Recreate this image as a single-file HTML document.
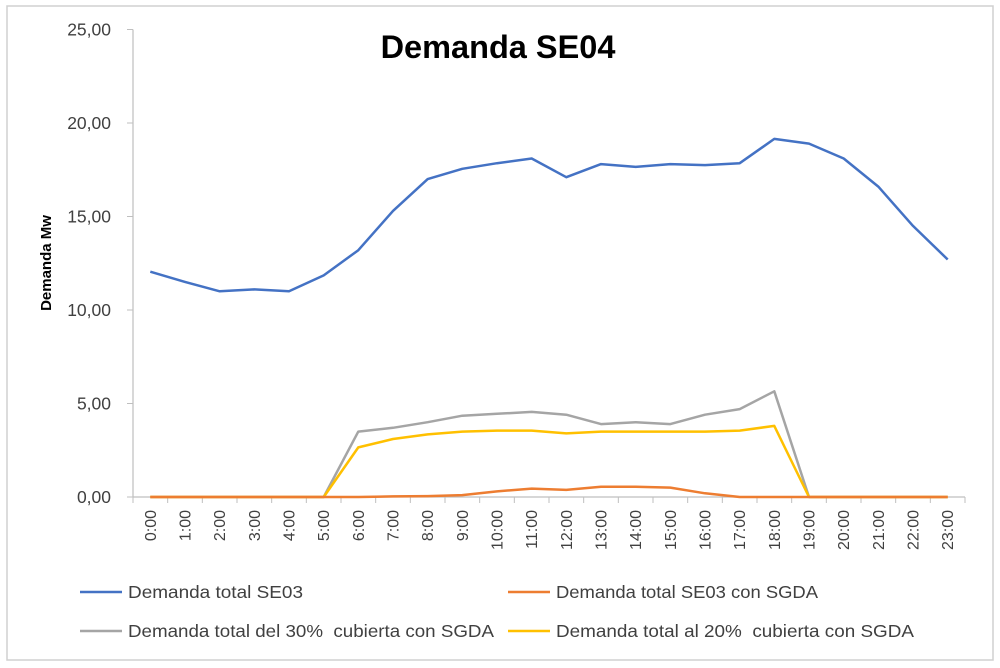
<!DOCTYPE html>
<html><head><meta charset="utf-8"><style>
body{margin:0;background:#fff;}
svg{display:block;font-family:"Liberation Sans",Arial,sans-serif;}
text{white-space:pre;}
</style></head><body>
<svg id="chart" width="1000" height="668" viewBox="0 0 1000 668">
<rect x="7" y="6" width="986" height="654" fill="#fff" stroke="#d0d0d0" stroke-width="1.5"/>
<text x="498" y="58" text-anchor="middle" font-size="32.5" font-weight="bold" fill="#000">Demanda SE04</text>
<text transform="translate(51,263) rotate(-90)" text-anchor="middle" font-size="15" font-weight="bold" fill="#000">Demanda Mw</text>
<g id="axes"></g>
<g id="series"></g>
<g id="legend"></g>
</svg>
<script>
const categories=["0:00","1:00","2:00","3:00","4:00","5:00","6:00","7:00","8:00","9:00","10:00","11:00","12:00","13:00","14:00","15:00","16:00","17:00","18:00","19:00","20:00","21:00","22:00","23:00"];
const yTicks=[0,5,10,15,20,25];
const yTickLabels=["0,00","5,00","10,00","15,00","20,00","25,00"];
const seTotal=[12.05,11.5,11.0,11.1,11.0,11.85,13.2,15.3,17.0,17.55,17.85,18.1,17.1,17.8,17.65,17.8,17.75,17.85,19.15,18.9,18.1,16.6,14.5,12.7];
const seSGDA=[0,0,0,0,0,0,0,0.03,0.05,0.1,0.3,0.45,0.38,0.55,0.55,0.5,0.2,0,0,0,0,0,0,0];
const total30=[0,0,0,0,0,0,3.5,3.7,4.0,4.35,4.45,4.55,4.4,3.9,4.0,3.9,4.4,4.7,5.65,0,0,0,0,0];
const total20=[0,0,0,0,0,0,2.65,3.1,3.35,3.5,3.55,3.55,3.4,3.5,3.5,3.5,3.5,3.55,3.8,0,0,0,0,0];
const seriesNames=["Demanda total SE03","Demanda total SE03 con SGDA","Demanda total del 30%  cubierta con SGDA","Demanda total al 20%  cubierta con SGDA"];
const NS="http://www.w3.org/2000/svg";
const x0=133,x1=965,yTop=29.5,yBot=497,yMax=25;
const step=(x1-x0)/categories.length;
const xs=i=>x0+step*(i+0.5);
const ys=v=>yBot-(v/yMax)*(yBot-yTop);
function mk(tag,attrs,parent){const e=document.createElementNS(NS,tag);for(const k in attrs)e.setAttribute(k,attrs[k]);parent.appendChild(e);return e;}
const axes=document.getElementById('axes');
let yl=mk('line',{x1:x0,y1:yTop,x2:x0,y2:yBot,stroke:'#bfbfbf','stroke-width':1.2},axes);


yTicks.forEach((t,i)=>{
 const tk=mk('line',{x1:x0-6,y1:ys(t),x2:x0,y2:ys(t),stroke:'#bfbfbf','stroke-width':1},axes);
 
 
 const tx=mk('text',{x:x0-22,y:ys(t)+6,'text-anchor':'end','font-size':17.5,fill:'#404040'},axes);
 tx.textContent=yTickLabels[i];
 
 
});
let xl=mk('line',{x1:x0,y1:yBot,x2:x1,y2:yBot,stroke:'#bfbfbf','stroke-width':1.2},axes);


for(let i=0;i<=categories.length;i++){
 const tk=mk('line',{x1:x0+step*i,y1:yBot,x2:x0+step*i,y2:yBot+6,stroke:'#bfbfbf','stroke-width':1},axes);
 
 
}
categories.forEach((c,i)=>{
 const tx=mk('text',{transform:`translate(${xs(i)+5.5},510) rotate(-90)`,'text-anchor':'end','font-size':16,fill:'#404040'},axes);
 tx.textContent=c;
 
 
});
const colors=["#4472c4","#ed7d31","#a5a5a5","#ffc000"];
const data=[seTotal,seSGDA,total30,total20];
const sg=document.getElementById('series');
const order=[0,2,3,1];
order.forEach(k=>{
 const pts=data[k].map((v,i)=>xs(i).toFixed(1)+','+ys(v).toFixed(1)).join(' ');
 const pl=mk('polyline',{points:pts,fill:'none',stroke:colors[k],'stroke-width':2.5,'stroke-linejoin':'round'},sg);
 
 
});
const lg=document.getElementById('legend');
const lpos=[[80,592],[508,592],[80,631],[508,631]];
seriesNames.forEach((n,k)=>{
 const g=mk('g',{},lg);
 
 
 const [lx,ly]=lpos[k];
 mk('line',{x1:lx,y1:ly,x2:lx+42,y2:ly,stroke:colors[k],'stroke-width':2.5},g);
 const t=mk('text',{x:lx+48,y:ly+6,'font-size':17.5,fill:'#404040','textLength':k===0?175:(k===1?262:(k===2?366:358)),'lengthAdjust':'spacingAndGlyphs'},g);
 t.textContent=n;
});
</script>
</body></html>
